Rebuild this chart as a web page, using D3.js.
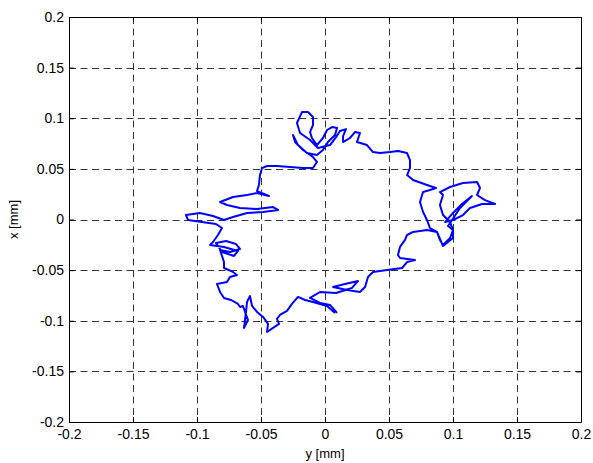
<!DOCTYPE html>
<html>
<head>
<meta charset="utf-8">
<script src="https://cdn.jsdelivr.net/npm/d3@7"></script>
<style>
  body { margin: 0; background: #fff; }
  text { font-family: "Liberation Sans", Arial, sans-serif; }
</style>
</head>
<body>
<div id="chart"></div>
<script>
// Trajectory: horizontal = y [mm], vertical = x [mm]
const yMM = [
  0.0078, 0.0016, -0.0039, -0.0094, -0.0156, -0.0211, -0.0258, -0.0297, -0.0352, -0.0375,
  -0.0359, -0.0406, -0.0453, -0.0445, -0.0484, -0.0531, -0.0570, -0.0586, -0.0609,
  -0.0617, -0.0633, -0.0602, -0.0641, -0.0664,
  -0.0680, -0.0734, -0.0789, -0.0820, -0.0844, -0.0766, -0.0742, -0.0688, -0.0719, -0.0789,
  -0.0789, -0.0820, -0.0742, -0.0664,
  -0.0695, -0.0773, -0.0852, -0.0805, -0.0711, -0.0680,
  -0.0789, -0.0898, -0.0875, -0.0836, -0.0805, -0.0852,
  -0.0961, -0.1070, -0.1086, -0.0977, -0.0875, -0.0789, -0.0719, -0.0609, -0.0484, -0.0367,
  -0.0406, -0.0531, -0.0664, -0.0766, -0.0820, -0.0719, -0.0609, -0.0531, -0.0438, -0.0531,
  -0.0516, -0.0508, -0.0492, -0.0453, -0.0375, -0.0273, -0.0172, -0.0094, -0.0063, -0.0094,
  -0.0172, -0.0234, -0.0250, -0.0211, -0.0141, -0.0063, -0.0016, 0.0023, 0.0078, 0.0094,
  0.0055, 0.0016, -0.0016, -0.0063, -0.0102, -0.0117, -0.0094, -0.0094, -0.0133, -0.0180,
  -0.0219, -0.0195, -0.0117, -0.0055, 0.0039, 0.0086,
  0.0117, 0.0164, 0.0141,
  0.0141, 0.0195, 0.0234, 0.0273,
  0.0250, 0.0328, 0.0375, 0.0430, 0.0508, 0.0570, 0.0641, 0.0664, 0.0664, 0.0641,
  0.0688, 0.0797, 0.0867, 0.0820, 0.0766, 0.0742, 0.0766, 0.0797, 0.0820, 0.0875,
  0.0898, 0.0922, 0.0977, 0.1000, 0.0977, 0.0922, 0.0898, 0.0922, 0.0898, 0.0977,
  0.1078, 0.1188, 0.1211, 0.1188, 0.1250, 0.1328, 0.1227, 0.1133, 0.1078, 0.1000,
  0.0938,
  0.0992, 0.1070, 0.1148, 0.1055, 0.0961,
  0.1000, 0.1000, 0.0922, 0.0875, 0.0797, 0.0688, 0.0641, 0.0625, 0.0586,
  0.0570, 0.0586, 0.0703, 0.0641, 0.0602, 0.0484, 0.0375, 0.0336, 0.0313, 0.0273,
  0.0172, 0.0063,
  0.0156, 0.0258, 0.0211, 0.0086,
  -0.0039, -0.0117, -0.0039, 0.0039, 0.0094
];
const xMM = [
  -0.0923, -0.0854, -0.0834, -0.0814, -0.0795, -0.0765, -0.0834, -0.0903, -0.0943, -0.0982,
  -0.1031, -0.1071, -0.1111, -0.1031, -0.0962, -0.0913, -0.0854, -0.0755, -0.0814,
  -0.0913, -0.1071, -0.0992, -0.0854, -0.0864,
  -0.0834, -0.0795, -0.0775, -0.0716, -0.0637, -0.0617, -0.0568, -0.0548, -0.0518, -0.0479,
  -0.0420, -0.0301, -0.0321, -0.0291,
  -0.0242, -0.0212, -0.0232, -0.0321, -0.0360, -0.0311,
  -0.0271, -0.0252, -0.0222, -0.0153, -0.0084, -0.0044,
  -0.0025, -0.0005, 0.0044, 0.0064, 0.0035, -0.0005, 0.0025, 0.0064, 0.0074, 0.0094,
  0.0123, 0.0104, 0.0114, 0.0143, 0.0173, 0.0222, 0.0242, 0.0262, 0.0232, 0.0281,
  0.0341, 0.0439, 0.0508, 0.0528, 0.0528, 0.0518, 0.0508, 0.0508, 0.0568, 0.0617,
  0.0686, 0.0765, 0.0834, 0.0735, 0.0656, 0.0637, 0.0686, 0.0765, 0.0834, 0.0903,
  0.0913, 0.0884, 0.0805, 0.0735, 0.0805, 0.0864, 0.0933, 0.1012, 0.1061, 0.1061,
  0.0953, 0.0854, 0.0785, 0.0706, 0.0735, 0.0814,
  0.0874, 0.0893, 0.0824,
  0.0765, 0.0805, 0.0864, 0.0854,
  0.0765, 0.0735, 0.0666, 0.0656, 0.0666, 0.0676, 0.0656, 0.0587, 0.0508, 0.0439,
  0.0390, 0.0341, 0.0311, 0.0291, 0.0271, 0.0173, 0.0074, -0.0005, -0.0084, -0.0123,
  -0.0202, -0.0252, -0.0183, -0.0104, -0.0025, 0.0044, 0.0143, 0.0242, 0.0271, 0.0321,
  0.0360, 0.0370, 0.0311, 0.0242, 0.0192, 0.0153, 0.0153, 0.0114, 0.0044, -0.0005,
  -0.0025,
  0.0054, 0.0153, 0.0232, 0.0114, -0.0064,
  -0.0104, -0.0183, -0.0262, -0.0123, -0.0104, -0.0123, -0.0153, -0.0202, -0.0271,
  -0.0350, -0.0380, -0.0400, -0.0420, -0.0479, -0.0499, -0.0518, -0.0568, -0.0666, -0.0716,
  -0.0696, -0.0666,
  -0.0637, -0.0607, -0.0676, -0.0726,
  -0.0716, -0.0775, -0.0824, -0.0844, -0.0923
];
const tickValues = [-0.2, -0.15, -0.1, -0.05, 0, 0.05, 0.1, 0.15, 0.2];
const tickLabels = ["-0.2", "-0.15", "-0.1", "-0.05", "0", "0.05", "0.1", "0.15", "0.2"];

const points = yMM.map((v, i) => ({ y: v, x: xMM[i] }));

// Dimensions
const width = 593;
const height = 463;
const margin = { top: 17, right: 12, bottom: 41, left: 69 };

const svg = d3.select("#chart")
  .append("svg")
  .attr("width", width)
  .attr("height", height);

// Scales
const xs = d3.scaleLinear()
  .domain([-0.2, 0.2])
  .range([margin.left, width - margin.right]);

const ys = d3.scaleLinear()
  .domain([-0.2, 0.2])
  .range([height - margin.bottom, margin.top]);

const fmt = v => tickLabels[tickValues.indexOf(v)];

// Grid lines
svg.append("g")
  .selectAll("line")
  .data(tickValues.slice(1, -1))
  .join("line")
  .attr("x1", d => Math.round(xs(d)) + 0.5)
  .attr("x2", d => Math.round(xs(d)) + 0.5)
  .attr("y1", margin.top)
  .attr("y2", height - margin.bottom)
  .attr("stroke", "#333")
  .attr("stroke-dasharray", "7,4.5");

svg.append("g")
  .selectAll("line")
  .data(tickValues.slice(1, -1))
  .join("line")
  .attr("y1", d => Math.round(ys(d)) + 0.5)
  .attr("y2", d => Math.round(ys(d)) + 0.5)
  .attr("x1", margin.left)
  .attr("x2", width - margin.right)
  .attr("stroke", "#333")
  .attr("stroke-dasharray", "7,4.5");

// Trajectory
const line = d3.line()
  .x(d => xs(d.y))
  .y(d => ys(d.x))
  .curve(d3.curveLinear);

svg.append("path")
  .datum(points)
  .attr("d", line)
  .attr("fill", "none")
  .attr("stroke", "#0000ff")
  .attr("stroke-width", 2)
  .attr("stroke-linejoin", "round");

// Axes (ticks point inward, box on all sides)
const axB = d3.axisBottom(xs).tickValues(tickValues).tickFormat(fmt).tickSizeInner(-5).tickSizeOuter(0).tickPadding(7);
const axL = d3.axisLeft(ys).tickValues(tickValues).tickFormat(fmt).tickSizeInner(-5).tickSizeOuter(0).tickPadding(5);
const axT = d3.axisTop(xs).tickValues(tickValues).tickFormat("").tickSizeInner(-5).tickSizeOuter(0);
const axR = d3.axisRight(ys).tickValues(tickValues).tickFormat("").tickSizeInner(-5).tickSizeOuter(0);

svg.append("g").attr("transform", `translate(0,${height - margin.bottom})`).call(axB);
svg.append("g").attr("transform", `translate(${margin.left},0)`).call(axL);
svg.append("g").attr("transform", `translate(0,${margin.top})`).call(axT);
svg.append("g").attr("transform", `translate(${width - margin.right},0)`).call(axR);

svg.selectAll(".domain, .tick line")
  .attr("stroke", "#000");
svg.selectAll(".tick text")
  .attr("fill", "#000")
  .style("font-size", "14px")
  .style("font-family", "'Liberation Sans', Arial, sans-serif");

// Axis labels
svg.append("text")
  .attr("x", (margin.left + width - margin.right) / 2)
  .attr("y", 458)
  .attr("text-anchor", "middle")
  .style("font-size", "13px")
  .text("y [mm]");

svg.append("text")
  .attr("transform", "rotate(-90)")
  .attr("x", -(margin.top + height - margin.bottom) / 2)
  .attr("y", 18)
  .attr("text-anchor", "middle")
  .style("font-size", "13px")
  .text("x [mm]");
</script>
</body>
</html>
